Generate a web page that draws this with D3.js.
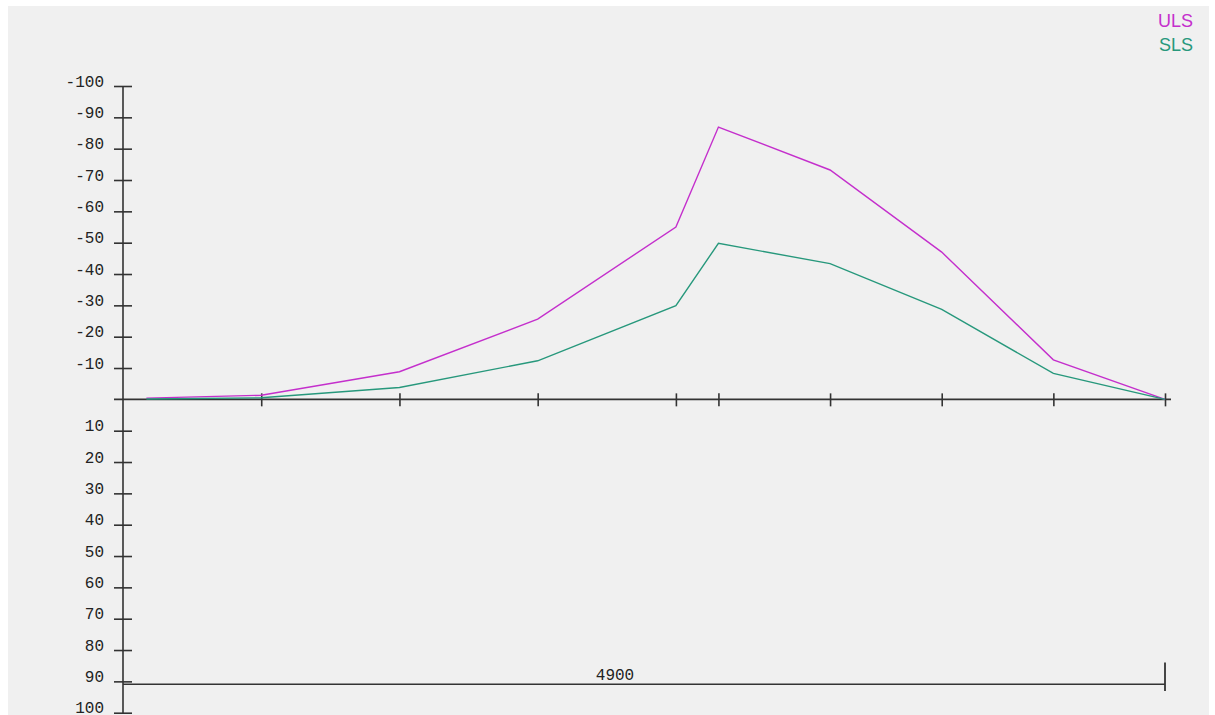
<!DOCTYPE html>
<html>
<head>
<meta charset="utf-8">
<script src="https://cdn.jsdelivr.net/npm/d3@7"></script>
<style>
  html, body { margin: 0; padding: 0; background: #ffffff; }
  svg { display: block; }
  .lbl { font-family: "Liberation Mono", "DejaVu Sans Mono", monospace; font-size: 16px; fill: #222; }
  .leg { font-family: "Liberation Sans", Arial, sans-serif; font-size: 18px; }
</style>
</head>
<body>
<svg id="chart" width="1215" height="715"></svg>
<script>
// Positions along the 4900 span
const positions = [110, 650, 1300, 1950, 2600, 2800, 3325, 3850, 4375, 4900];
// Moment values (negative = drawn above the axis)
const ulsValues = [-0.4, -1.3, -8.8, -25.6, -55.0, -86.9, -73.2, -47.0, -12.6, 0];
const slsValues = [-0.1, -0.5, -3.8, -12.3, -29.9, -49.8, -43.3, -28.7, -8.3, 0];
// Axis ticks
const xTicks = [650, 1300, 1950, 2600, 2800, 3325, 3850, 4375, 4900];
const yTicks = [-100, -90, -80, -70, -60, -50, -40, -30, -20, -10, 10, 20, 30, 40, 50, 60, 70, 80, 90, 100];
const spanLabel = "4900";
const seriesNames = ["ULS", "SLS"];
const seriesColors = ["#c42fcc", "#27987c"];

const svg = d3.select("#chart");

svg.append("rect")
  .attr("x", 8).attr("y", 6)
  .attr("width", 1201).attr("height", 709)
  .attr("fill", "#f0f0f0");

const x = d3.scaleLinear().domain([0, 4900]).range([123, 1165]);
const y = d3.scaleLinear().domain([-100, 100]).range([86, 712.7]);

const axisColor = "#333";

// Vertical value axis
const yAxis = d3.axisLeft(y).tickValues(yTicks).tickSize(9).tickFormat(d => String(d));
const gy = svg.append("g").attr("transform", `translate(${x(0)},0)`).call(yAxis);
gy.select(".domain").remove();
gy.selectAll(".tick line")
  .attr("x1", -9).attr("x2", 9)
  .attr("stroke", axisColor).attr("stroke-width", 1.6);
gy.selectAll(".tick text")
  .attr("class", "lbl")
  .attr("x", -19)
  .attr("dy", "0")
  .attr("y", 0)
  .attr("text-anchor", "end");
svg.append("line")
  .attr("x1", x(0)).attr("x2", x(0))
  .attr("y1", y(-100)).attr("y2", 714)
  .attr("stroke", axisColor).attr("stroke-width", 1.6);

// Horizontal baseline with ticks at each section
svg.append("line")
  .attr("x1", 114).attr("x2", 1171)
  .attr("y1", y(0)).attr("y2", y(0))
  .attr("stroke", axisColor).attr("stroke-width", 1.6);
const xAxis = d3.axisBottom(x).tickValues(xTicks).tickSize(6).tickFormat("");
const gx = svg.append("g").attr("transform", `translate(0,${y(0)})`).call(xAxis);
gx.select(".domain").remove();
gx.selectAll(".tick line")
  .attr("y1", -6).attr("y2", 7)
  .attr("stroke", axisColor).attr("stroke-width", 1.6);

// Series lines
const line = d3.line().x(d => x(d[0])).y(d => y(d[1]));
[ulsValues, slsValues].forEach((vals, i) => {
  svg.append("path")
    .datum(positions.map((p, k) => [p, vals[k]]))
    .attr("d", line)
    .attr("fill", "none")
    .attr("stroke", seriesColors[i])
    .attr("stroke-width", 1.4);
});

// Span dimension line
const dimY = 684.3;
svg.append("line")
  .attr("x1", x(0)).attr("x2", x(4900))
  .attr("y1", dimY).attr("y2", dimY)
  .attr("stroke", axisColor).attr("stroke-width", 1.6);
svg.append("line")
  .attr("x1", x(4900)).attr("x2", x(4900))
  .attr("y1", 662.5).attr("y2", 691)
  .attr("stroke", axisColor).attr("stroke-width", 1.8);
svg.append("text")
  .attr("class", "lbl")
  .attr("x", 615).attr("y", 679.5)
  .attr("text-anchor", "middle")
  .text(spanLabel);

// Legend
seriesNames.forEach((name, i) => {
  svg.append("text")
    .attr("class", "leg")
    .attr("x", 1193).attr("y", 26.5 + i * 24)
    .attr("text-anchor", "end")
    .attr("fill", seriesColors[i])
    .text(name);
});
</script>
</body>
</html>
